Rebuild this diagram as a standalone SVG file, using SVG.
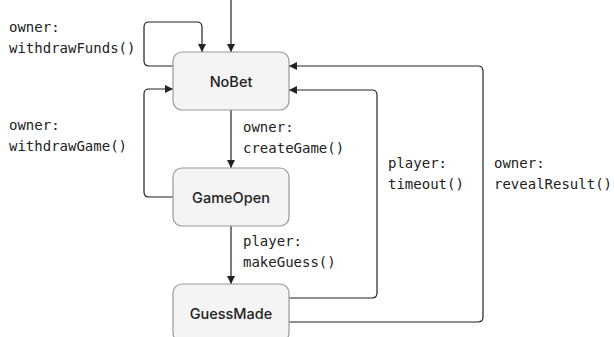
<svg xmlns="http://www.w3.org/2000/svg" width="614" height="337" viewBox="0 0 614 337">
<style>
.node rect{fill:#f4f4f4;stroke:#999;stroke-width:1.2}
.node text{font-family:Inter,"Noto Sans",sans-serif;font-size:14.5px;font-weight:500;fill:#222;text-anchor:middle;dominant-baseline:central}
.edge{fill:none;stroke:#222;stroke-width:1.2;marker-end:url(#ah)}
.lbl{font-family:"DejaVu Sans Mono","Liberation Mono",monospace;font-size:14px;fill:#222}
</style>
<defs>
<marker id="ah" viewBox="0 0 10 10" refX="10" refY="5" markerWidth="8" markerHeight="8" markerUnits="userSpaceOnUse" orient="auto">
<path d="M0,0 L10,5 L0,10 z" fill="#222"/>
</marker>
</defs>
<rect width="614" height="337" fill="#fff"/>
<g id="connectors">
<path class="edge" d="M231,0 V52"/>
<path class="edge" d="M173,66 H149 Q144,66 144,61 V27 Q144,22 149,22 H197 Q202,22 202,27 V52"/>
<path class="edge" d="M231,110 V168"/>
<path class="edge" d="M173,197 H149 Q144,197 144,192 V94 Q144,89 149,89 H173"/>
<path class="edge" d="M231,226 V284"/>
<path class="edge" d="M289,298 H372 Q377,298 377,293 V95 Q377,90 372,90 H289"/>
<path class="edge" d="M289,322 H478 Q483,322 483,317 V71 Q483,66 478,66 H289"/>
</g>
<g id="NoBet" class="node"><rect x="173" y="52" width="116" height="58" rx="9"/><text x="231" y="81">NoBet</text></g>
<g id="GameOpen" class="node"><rect x="173" y="168" width="116" height="58" rx="9"/><text x="231" y="197">GameOpen</text></g>
<g id="GuessMade" class="node"><rect x="173" y="284" width="116" height="58" rx="9"/><text x="231" y="313">GuessMade</text></g>
<g id="labels">
<text class="lbl" x="9" y="32">owner:</text>
<text class="lbl" x="9" y="53">withdrawFunds()</text>
<text class="lbl" x="9" y="130">owner:</text>
<text class="lbl" x="9" y="151">withdrawGame()</text>
<text class="lbl" x="243" y="132">owner:</text>
<text class="lbl" x="243" y="153">createGame()</text>
<text class="lbl" x="243" y="246">player:</text>
<text class="lbl" x="243" y="267">makeGuess()</text>
<text class="lbl" x="388" y="168">player:</text>
<text class="lbl" x="388" y="189">timeout()</text>
<text class="lbl" x="494" y="168">owner:</text>
<text class="lbl" x="494" y="189">revealResult()</text>
</g>
</svg>
